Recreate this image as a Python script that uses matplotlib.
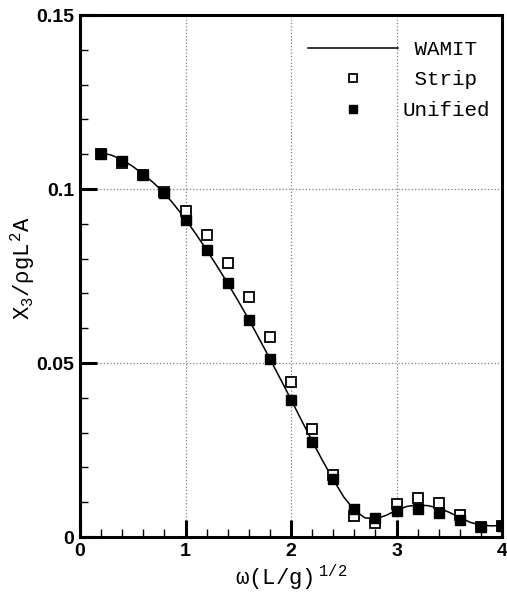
import matplotlib
matplotlib.use("Agg")
import matplotlib.pyplot as plt
from matplotlib.ticker import MultipleLocator

plt.rcParams['mathtext.fontset'] = 'custom'
plt.rcParams['mathtext.rm'] = 'Liberation Mono'
plt.rcParams['mathtext.it'] = 'Liberation Mono'
plt.rcParams['mathtext.bf'] = 'Liberation Mono:bold'

# WAMIT curve
wamit_x = [0.2, 0.3, 0.4, 0.5, 0.6, 0.7, 0.8, 0.9, 1.0, 1.1, 1.2, 1.3, 1.4, 1.5,
           1.6, 1.7, 1.8, 1.9, 2.0, 2.1, 2.2, 2.3, 2.4, 2.5, 2.6, 2.7, 2.8, 2.9,
           3.0, 3.1, 3.2, 3.3, 3.4, 3.5, 3.6, 3.7, 3.8, 3.9, 4.0]
wamit_y = [0.1105, 0.1097, 0.1084, 0.1065, 0.1042, 0.1017, 0.0988, 0.0952,
           0.0913, 0.0870, 0.0825, 0.0778, 0.0729, 0.0678, 0.0625, 0.0569,
           0.0512, 0.0454, 0.0395, 0.0335, 0.0276, 0.0219, 0.0165, 0.0115,
           0.0077, 0.0055, 0.0052, 0.0062, 0.0077, 0.0088, 0.0092, 0.0090,
           0.0083, 0.0071, 0.0056, 0.0042, 0.0034, 0.0032, 0.0033]

# Strip theory and Unified theory points
omega = [0.2, 0.4, 0.6, 0.8, 1.0, 1.2, 1.4, 1.6, 1.8, 2.0,
         2.2, 2.4, 2.6, 2.8, 3.0, 3.2, 3.4, 3.6, 3.8, 4.0]
strip = [0.1100, 0.1074, 0.1040, 0.0990, 0.0936, 0.0868, 0.0786, 0.0690,
         0.0574, 0.0446, 0.0311, 0.0179, 0.0061, 0.0039, 0.0094, 0.0111,
         0.0099, 0.0063, 0.0028, 0.0032]
unified = [0.1101, 0.1081, 0.1041, 0.0989, 0.0911, 0.0825, 0.0729, 0.0624,
           0.0511, 0.0394, 0.0274, 0.0166, 0.0080, 0.0054, 0.0075, 0.0080,
           0.0068, 0.0049, 0.0030, 0.0032]

fig = plt.figure(figsize=(5.07, 5.97), dpi=100)
ax = fig.add_axes([80/507, 60/597, 422/507, 522/597])

ax.plot(wamit_x, wamit_y, color='black', lw=1.1, label=' WAMIT', zorder=3)
ax.plot(omega, strip, linestyle='none', marker='s', ms=7, mfc='white',
        mec='black', mew=1.3, label=' Strip', zorder=4)
ax.plot(omega, unified, linestyle='none', marker='s', ms=7, mfc='black',
        mec='black', label='Unified', zorder=5)

ax.set_xlim(0, 4)
ax.set_ylim(0, 0.15)
ax.xaxis.set_major_locator(MultipleLocator(1))
ax.xaxis.set_minor_locator(MultipleLocator(0.2))
ax.yaxis.set_major_locator(MultipleLocator(0.05))
ax.yaxis.set_minor_locator(MultipleLocator(0.01))
ax.set_xticks([0, 1, 2, 3, 4])
ax.set_xticklabels(['0', '1', '2', '3', '4'])
ax.set_yticks([0, 0.05, 0.1, 0.15])
ax.set_yticklabels(['0', '0.05', '0.1', '0.15'])

ax.tick_params(which='major', direction='in', length=12, width=2.2,
               labelsize=14, top=False, right=False, pad=4)
ax.tick_params(which='minor', direction='in', length=6, width=1,
               top=False, right=False)
for lab in ax.get_xticklabels() + ax.get_yticklabels():
    lab.set_fontfamily('Liberation Sans')
    lab.set_fontweight('bold')

for s in ax.spines.values():
    s.set_linewidth(2.2)

ax.grid(which='major', linestyle=':', color='gray', lw=0.9)

ax.set_xlabel(r'$\omega(L/g)^{\ 1/2}$', fontsize=16, labelpad=2)
ax.set_ylabel(r'$X_3/\rho gL^2A$', fontsize=16)
ax.yaxis.set_label_coords(-0.102, 0.515)

leg = ax.legend(loc='upper right', frameon=False, handlelength=4.3,
                markerscale=0.75, prop={'family': 'Liberation Mono', 'size': 15},
                borderaxespad=0.8, labelspacing=0.55, handletextpad=0.2,
                bbox_to_anchor=(1.03, 1.0))

fig.savefig('out.png', dpi=100)
